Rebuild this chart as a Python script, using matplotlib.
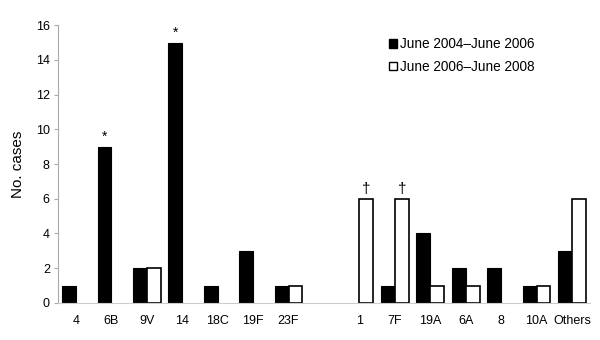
import numpy as np
import matplotlib.pyplot as plt
from matplotlib.patches import Patch

plt.rcParams['font.family'] = ['Liberation Sans', 'DejaVu Sans']

serotypes = ['4', '6B', '9V', '14', '18C', '19F', '23F', '',
             '1', '7F', '19A', '6A', '8', '10A', 'Others']
period_1 = [1, 9, 2, 15, 1, 3, 1, 0, 0, 1, 4, 2, 2, 1, 3]
period_2 = [0, 0, 2, 0, 0, 0, 1, 0, 6, 6, 1, 1, 0, 1, 6]
star_marks = ['6B', '14']      # on period 1 bars
dagger_marks = ['1', '7F']     # on period 2 bars

fig = plt.figure(figsize=(6, 3.4), dpi=100)
ax = fig.add_axes([0.097, 0.109, 0.886, 0.817])

x = np.arange(len(serotypes))
w = 0.39
# skip empty bars so no flat edge line is drawn at zero
h1 = np.where(np.array(period_1) > 0, period_1, np.nan)
h2 = np.where(np.array(period_2) > 0, period_2, np.nan)
ax.bar(x - w / 2, h1, w, color='black', edgecolor='black', linewidth=0.8)
ax.bar(x + w / 2, h2, w, color='white', edgecolor='black', linewidth=1.2)

for i, s in enumerate(serotypes):
    if s in star_marks:
        ax.text(x[i] - w / 2, period_1[i] + 0.15, '*', ha='center', va='bottom', fontsize=10)
    if s in dagger_marks:
        ax.text(x[i] + w / 2, period_2[i] + 0.15, '\u2020', ha='center', va='bottom', fontsize=11)

ax.set_xlim(-0.5, len(serotypes) - 0.5)
ax.set_ylim(0, 16)
ax.set_yticks(range(0, 17, 2))
ax.set_xticks(x)
ax.set_xticklabels(serotypes)
ax.tick_params(axis='x', length=0, pad=9, labelsize=9)
ax.tick_params(axis='y', length=3, color='#AAAAAA', labelsize=9, pad=3)
ax.set_ylabel('No. cases', fontsize=11, labelpad=8)

for side in ['top', 'right']:
    ax.spines[side].set_visible(False)
ax.spines['left'].set_color('#AAAAAA')
ax.spines['bottom'].set_color('#CCCCCC')

handles = [Patch(facecolor='black', edgecolor='black'),
           Patch(facecolor='white', edgecolor='black')]
ax.legend(handles, ['June 2004\u2013June 2006', 'June 2006\u2013June 2008'],
          loc='upper left', bbox_to_anchor=(0.6, 1.0), frameon=False,
          fontsize=9.8, handlelength=0.55, handleheight=0.55, handletextpad=0.2,
          labelspacing=0.6)

fig.savefig('out.png', dpi=100)
